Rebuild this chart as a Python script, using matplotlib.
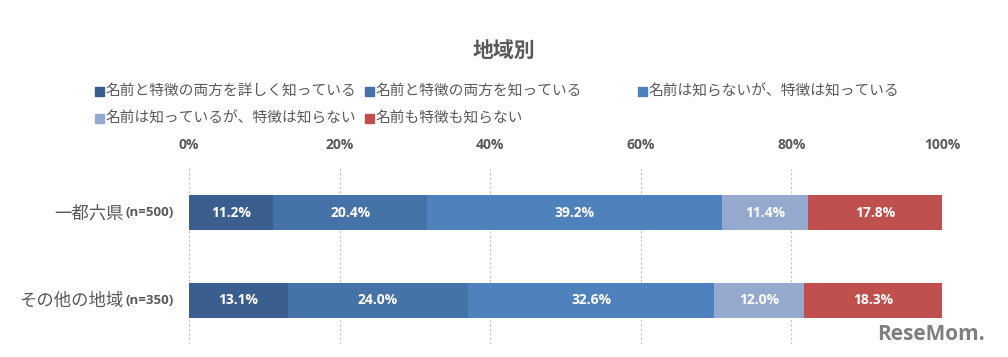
import numpy as np
import matplotlib
matplotlib.use("Agg")
import matplotlib.pyplot as plt

plt.rcParams['font.family'] = ['Noto Sans CJK JP', 'DejaVu Sans']

# data
regions = ['一都六県', 'その他の地域']
sample_sizes = ['(n=500)', '(n=350)']
series_names = ['名前と特徴の両方を詳しく知っている', '名前と特徴の両方を知っている',
                '名前は知らないが、特徴は知っている', '名前は知っているが、特徴は知らない',
                '名前も特徴も知らない']
both_detail = [11.2, 13.1]
both_know = [20.4, 24.0]
feature_only = [39.2, 32.6]
name_only = [11.4, 12.0]
neither = [17.8, 18.3]
series_values = [both_detail, both_know, feature_only, name_only, neither]
colors = ['#3A5F8E', '#4572A7', '#4F81BD', '#95A9CF', '#C0504D']
x_ticks = [0, 20, 40, 60, 80, 100]

grey = '#595959'
num_font = ['Open Sans', 'DejaVu Sans']

fig = plt.figure(figsize=(10.08, 3.57), dpi=100)
ax = fig.add_axes([189 / 1008, 1 - 344 / 357, 753 / 1008, 175 / 357])

y = np.arange(len(regions))
left = np.zeros(len(regions))
for vals, col in zip(series_values, colors):
    vals = np.array(vals)
    ax.barh(y, vals, left=left, height=0.40, color=col, zorder=3)
    for yi, (l, v) in enumerate(zip(left, vals)):
        ax.text(l + v / 2, yi, f'{v:.1f}%', ha='center', va='center',
                color='white', fontsize=10, fontweight='bold', family=num_font, zorder=4)
    left += vals

ax.set_xlim(0, 100)
ax.set_ylim(1.5, -0.5)
ax.set_xticks(x_ticks)
ax.set_xticklabels([f'{t}%' for t in x_ticks], color=grey, fontsize=10,
                   fontweight='bold', family=num_font)
ax.xaxis.tick_top()
ax.tick_params(axis='x', length=0, pad=12)
ax.set_yticks([])
ax.grid(axis='x', color='#BFBFBF', linestyle=(0, (2, 2)), linewidth=0.8, zorder=0)
for s in ax.spines.values():
    s.set_visible(False)

# category labels: name + sample size in bold
for yi, (name, n) in enumerate(zip(regions, sample_sizes)):
    t1 = ax.annotate(n, xy=(0, yi), xycoords=('axes fraction', 'data'),
                     xytext=(-15, 0), textcoords='offset pixels',
                     ha='right', va='center', fontsize=9.5, fontweight='bold',
                     color=grey, family=num_font)
    ax.annotate(name, xy=(0, 0.45), xycoords=t1, xytext=(-2, 0),
                textcoords='offset pixels', ha='right', va='center',
                fontsize=12.5, color=grey)

# title
fig.text(504 / 1008, 1 - 50 / 357, '地域別', ha='center', va='center',
         fontsize=15, fontweight='bold', color=grey)

# legend laid out like the original
legend_pos = [(95, 91), (365, 91), (638, 91), (95, 118), (365, 118)]
for (px, py), name, col in zip(legend_pos, series_names, colors):
    fig.patches.append(plt.Rectangle((px / 1008, 1 - (py + 4.5) / 357), 9 / 1008, 9 / 357,
                                     transform=fig.transFigure, color=col, figure=fig))
    fig.text((px + 11) / 1008, 1 - py / 357, name, ha='left', va='center',
             fontsize=10.6, color=grey)

fig.text(985 / 1008, 1 - 335 / 357, 'ReseMom.', ha='right', va='center',
         fontsize=15, fontweight='bold', color='#7F7F7F', family=num_font)

fig.savefig('out.png', dpi=100)
